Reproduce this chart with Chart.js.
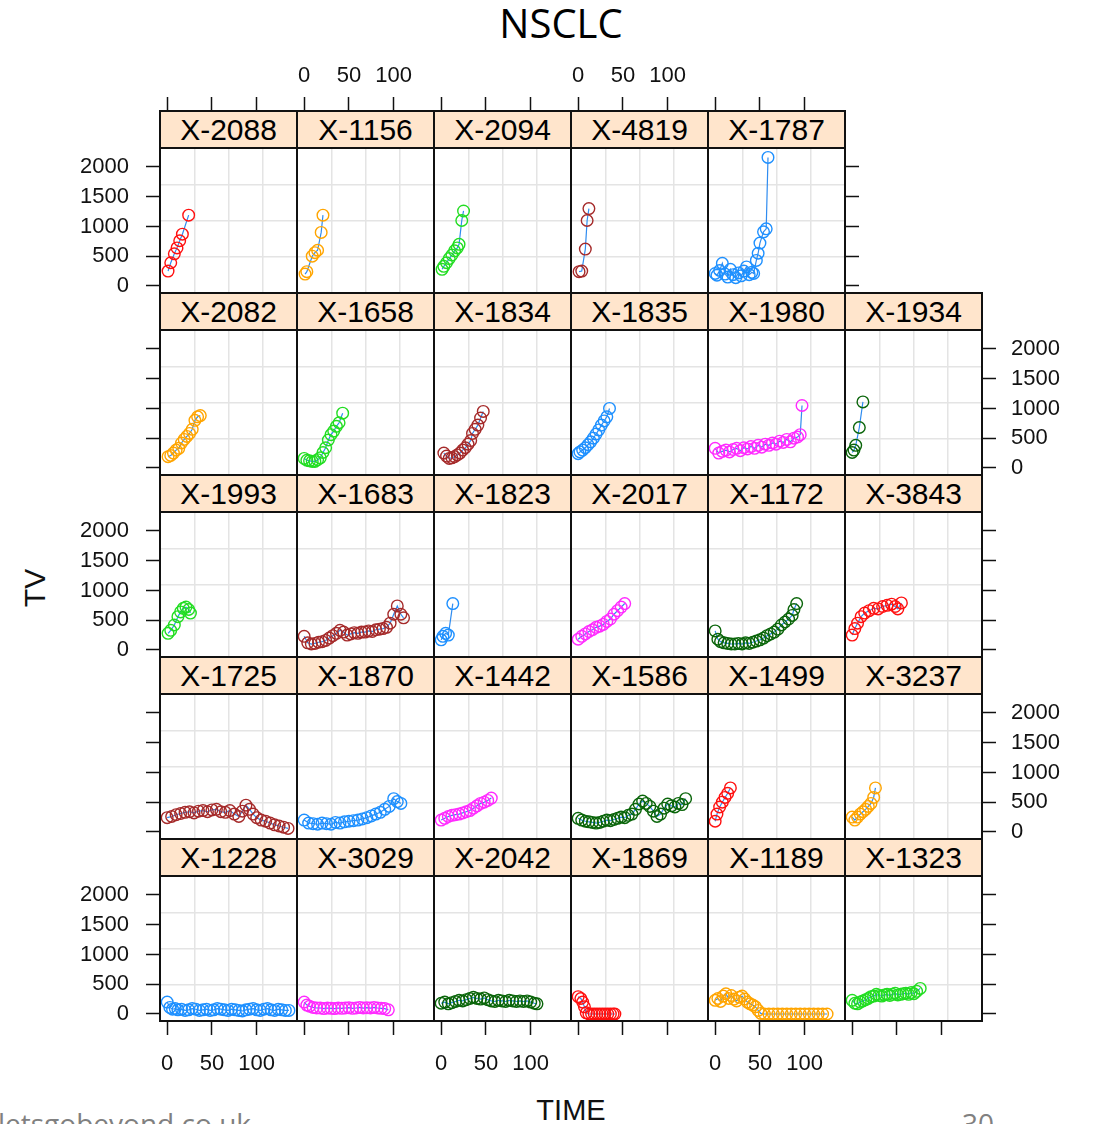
<!DOCTYPE html>
<html>
<head>
<meta charset="utf-8">
<script src="https://cdn.jsdelivr.net/npm/chart.js@4.4.0/dist/chart.umd.min.js"></script>
<style>
  html, body { margin: 0; padding: 0; background: #fff; }
  body { width: 1094px; height: 1124px; position: relative; overflow: hidden;
         font-family: "Liberation Sans", Arial, sans-serif; }
  canvas { position: absolute; }
  .strip { position: absolute; background: #ffe5cc; text-align: center; color: #000;
           font-size: 30px; line-height: 37px; }
  .frame { position: absolute; box-sizing: border-box; border: 2px solid #111; }
  .txt { position: absolute; white-space: nowrap; }
</style>
</head>
<body>
<div class="txt" style="left:0;width:1122px;top:3px;text-align:center;font-family:'Open Sans';font-size:40px;line-height:40px;color:#000">NSCLC</div>
<div class="txt" style="left:35px;top:588px;font-size:30px;transform:translate(-50%,-50%) rotate(-90deg);color:#111">TV</div>
<div class="txt" style="left:0;width:1142px;top:1094px;text-align:center;font-size:29px;line-height:32px;color:#111">TIME</div>
<div class="txt" style="left:-2px;top:1105px;font-family:'Open Sans';font-size:28px;line-height:36px;color:#808080">letsgobeyond.co.uk</div>
<div class="txt" style="left:962px;top:1105px;font-family:'Open Sans';font-size:28px;line-height:36px;color:#808080">30</div>
<script>
// subjects, in page order (top row first)
const subjects = ['X-2088','X-1156','X-2094','X-4819','X-1787',
  'X-2082','X-1658','X-1834','X-1835','X-1980','X-1934',
  'X-1993','X-1683','X-1823','X-2017','X-1172','X-3843',
  'X-1725','X-1870','X-1442','X-1586','X-1499','X-3237',
  'X-1228','X-3029','X-2042','X-1869','X-1189','X-1323'];

// [TIME, TV] per subject
const s2088 = [[1,250],[4,390],[8,540],[11,640],[14,760],[17,870],[24,1190]];
const s1156 = [[1,200],[3,240],[9,500],[12,560],[15,600],[19,900],[21,1190]];
const s2094 = [[1,280],[3,330],[6,390],[9,460],[12,520],[15,590],[18,640],[20,700],[23,1100],[25,1260]];
const s4819 = [[1,240],[4,250],[8,620],[10,1100],[12,1300]];
const s1787 = [[0,210],[2,180],[5,260],[8,380],[11,200],[14,150],[17,280],[20,190],[23,140],[26,220],[29,170],[32,250],[35,320],[38,190],[41,230],[43,210],[46,430],[48,550],[50,720],[54,910],[57,960],[59,2160]];

const s2082 = [[1,190],[4,210],[7,250],[10,300],[13,330],[16,420],[19,480],[22,530],[25,580],[28,650],[31,800],[34,860],[37,880]];
const s1658 = [[0,160],[3,130],[6,120],[9,110],[12,110],[15,140],[18,170],[21,260],[24,340],[27,470],[30,560],[33,620],[36,700],[39,760],[43,920]];
const s1834 = [[3,250],[6,200],[9,160],[12,170],[15,190],[18,220],[21,250],[24,300],[27,340],[30,400],[33,460],[35,580],[38,650],[41,720],[44,840],[47,950]];
const s1835 = [[0,240],[2,270],[5,300],[8,340],[11,390],[14,440],[17,500],[20,570],[23,640],[26,720],[29,790],[32,860],[35,1000]];
const s1980 = [[0,330],[4,250],[8,280],[12,300],[16,270],[20,310],[24,330],[28,290],[32,340],[36,320],[40,360],[44,330],[48,380],[52,350],[56,400],[60,380],[64,420],[68,400],[72,450],[76,430],[80,480],[84,440],[88,500],[92,520],[95,560],[97,1050]];
const s1934 = [[0,260],[2,300],[4,380],[8,680],[12,1110]];

const s1993 = [[1,280],[4,330],[8,420],[12,560],[15,640],[18,700],[21,720],[24,680],[26,620]];
const s1683 = [[0,230],[4,120],[8,100],[12,110],[16,130],[20,140],[24,160],[28,200],[32,240],[36,280],[40,330],[44,300],[48,250],[52,270],[56,290],[60,280],[64,300],[68,300],[72,320],[76,310],[80,340],[84,350],[88,360],[92,380],[96,450],[100,600],[104,740],[108,600],[111,540]];
const s1823 = [[0,170],[2,230],[5,280],[8,250],[13,780]];
const s2017 = [[0,180],[4,230],[8,270],[12,310],[16,340],[20,380],[24,400],[28,430],[32,480],[36,520],[40,600],[44,660],[48,720],[52,780]];
const s1172 = [[0,320],[3,180],[6,140],[10,120],[14,110],[18,100],[22,100],[26,110],[30,100],[34,120],[38,110],[42,130],[46,150],[50,170],[54,200],[58,240],[62,270],[66,300],[70,350],[74,420],[78,470],[82,520],[86,580],[88,680],[91,780]];
const s3843 = [[0,250],[3,360],[6,450],[10,560],[14,620],[19,660],[24,700],[29,690],[34,730],[39,750],[44,770],[48,730],[51,690],[55,790]];

const s1725 = [[0,240],[5,260],[10,290],[15,310],[20,330],[25,340],[30,320],[35,350],[40,360],[45,340],[50,370],[55,380],[60,340],[65,330],[70,360],[75,300],[80,260],[84,350],[88,450],[92,380],[96,300],[100,240],[105,200],[110,180],[115,150],[120,120],[125,100],[130,80],[135,60]];
const s1870 = [[0,200],[5,150],[10,140],[15,130],[20,150],[25,140],[30,130],[35,160],[40,150],[45,170],[50,180],[55,190],[60,200],[65,220],[70,240],[75,270],[80,300],[85,330],[90,380],[95,430],[100,560],[104,510],[108,480]];
const s1442 = [[0,200],[4,230],[8,260],[12,280],[16,290],[20,300],[24,320],[28,340],[32,360],[36,400],[40,440],[44,480],[48,500],[52,530],[56,570]];
const s1586 = [[0,230],[4,200],[8,180],[12,170],[16,160],[20,150],[24,160],[28,180],[32,200],[36,190],[40,210],[44,230],[48,250],[52,240],[56,280],[60,300],[64,380],[68,470],[72,520],[76,480],[80,430],[84,350],[88,260],[92,300],[96,400],[100,470],[104,440],[108,420],[112,480],[116,460],[120,560]];
const s1499 = [[0,180],[2,300],[5,420],[8,500],[11,580],[14,650],[17,740]];
const s3237 = [[0,250],[3,200],[6,250],[9,300],[12,340],[15,380],[18,430],[21,480],[24,580],[26,740]];

const s1228 = [[0,200],[3,110],[6,80],[9,90],[12,70],[16,80],[20,60],[24,70],[28,90],[32,80],[36,60],[40,70],[44,80],[48,60],[52,70],[56,90],[60,80],[64,70],[68,60],[72,80],[76,70],[80,60],[84,50],[88,70],[92,80],[96,90],[100,70],[104,60],[108,80],[112,90],[116,70],[120,60],[124,80],[128,70],[132,60],[136,60]];
const s3029 = [[0,200],[3,150],[6,130],[10,110],[14,100],[18,100],[22,90],[26,100],[30,95],[34,90],[38,100],[42,95],[46,100],[50,105],[54,95],[58,100],[62,110],[66,100],[70,105],[74,100],[78,110],[82,100],[86,95],[90,90],[94,70]];
const s2042 = [[0,180],[4,200],[8,170],[12,190],[16,210],[20,230],[24,220],[28,240],[32,260],[36,280],[40,260],[44,250],[48,270],[52,240],[56,220],[60,210],[64,230],[68,220],[72,210],[76,230],[80,220],[84,210],[88,220],[92,210],[96,220],[100,200],[104,180],[107,170]];
const s1869 = [[0,290],[3,260],[5,200],[7,120],[9,20],[12,0],[15,0],[18,0],[21,0],[24,0],[27,0],[30,0],[33,0],[36,0],[39,0],[41,0]];
const s1189 = [[0,230],[3,260],[6,210],[9,300],[12,340],[15,260],[18,310],[21,250],[24,220],[27,280],[30,300],[33,250],[36,200],[39,170],[42,150],[45,120],[48,60],[51,10],[55,0],[60,0],[65,0],[70,0],[75,0],[80,0],[85,0],[90,0],[95,0],[100,0],[105,0],[110,0],[115,0],[120,0],[125,0]];
const s1323 = [[0,230],[3,180],[6,170],[9,200],[12,220],[15,240],[18,260],[21,290],[24,300],[27,330],[30,310],[33,300],[36,320],[39,330],[42,310],[45,330],[48,350],[51,320],[54,330],[57,340],[60,350],[63,330],[66,360],[69,340],[72,380],[76,430]];

const series = [s2088, s1156, s2094, s4819, s1787,
  s2082, s1658, s1834, s1835, s1980, s1934,
  s1993, s1683, s1823, s2017, s1172, s3843,
  s1725, s1870, s1442, s1586, s1499, s3237,
  s1228, s3029, s2042, s1869, s1189, s1323];

const xTicks = [0, 50, 100];
const yTicks = [0, 500, 1000, 1500, 2000];

// lattice colours, cycled from the bottom-left panel upwards
const palette = ['#1e90ff', '#ff2bff', '#0a650a', '#ff1010', '#ffa500', '#22dd22', '#a52a2a'];
const lineBlue = '#2f8cf0';
const gridCol = '#e4e4e4';

const X_MIN = -8, X_MAX = 145, Y_MIN = -118, Y_MAX = 2318;
const LEFT0 = 160, TOP0 = 111, W = 137, STRIP = 37, PANEL = 145, ROW = 182;
const PAD = 40;  // spare canvas room so tick labels never squeeze the plot area
const FONT = 'Liberation Sans';

function colX(c) { return LEFT0 + c * W; }
function rowY(r) { return TOP0 + r * ROW; }

function addDiv(cls, x, y, w, h, text) {
  var d = document.createElement('div');
  d.className = cls;
  d.style.left = x + 'px'; d.style.top = y + 'px';
  d.style.width = w + 'px'; d.style.height = h + 'px';
  if (text) d.textContent = text;
  document.body.appendChild(d);
  return d;
}

function makeCanvas(x, y, w, h) {
  var cv = document.createElement('canvas');
  cv.width = w; cv.height = h;
  cv.style.left = x + 'px'; cv.style.top = y + 'px';
  cv.style.width = w + 'px'; cv.style.height = h + 'px';
  document.body.appendChild(cv);
  return cv.getContext('2d');
}

var base = {
  responsive: false, animation: false, devicePixelRatio: 1, events: [],
  plugins: { legend: { display: false }, tooltip: { enabled: false } }
};

function panelChart(i, r, c) {
  var x = colX(c), y = rowY(r) + STRIP;
  var ctx = makeCanvas(x, y, W, PANEL);
  var bu = (4 - r) * 6 + c;
  new Chart(ctx, {
    type: 'scatter',
    data: {
      datasets: [{
        data: series[i].map(p => ({ x: p[0], y: p[1] })),
        showLine: true,
        borderColor: lineBlue,
        borderWidth: 1.2,
        pointRadius: 5.8,
        pointBorderWidth: 1.4,
        pointBorderColor: palette[bu % 7],
        pointBackgroundColor: 'rgba(0,0,0,0)'
      }]
    },
    options: Object.assign({}, base, {
      layout: { padding: 0, autoPadding: false },
      scales: {
        x: { type: 'linear', min: X_MIN, max: X_MAX, display: false },
        y: { type: 'linear', min: Y_MIN, max: Y_MAX, display: false },
        gx: { type: 'linear', axis: 'x', position: 'bottom', min: 0, max: 4,
              ticks: { display: false, stepSize: 1 },
              grid: { color: gridCol, lineWidth: 1.5, drawTicks: false }, border: { display: false } },
        gy: { type: 'linear', axis: 'y', position: 'left', min: 0, max: 4,
              ticks: { display: false, stepSize: 1 },
              grid: { color: gridCol, lineWidth: 1.5, drawTicks: false }, border: { display: false } }
      }
    })
  });
  addDiv('strip', x, rowY(r), W, STRIP, subjects[i]);
  addDiv('frame', x - 1, rowY(r) - 1, W + 2, STRIP + 2);
  addDiv('frame', x - 1, y - 1, W + 2, PANEL + 2);
}

function tickOpts(show, pad) {
  return {
    display: true, autoSkip: false, maxRotation: 0, padding: pad,
    font: { family: FONT, size: 22 }, color: '#111',
    callback: v => show ? String(v) : ''
  };
}
function tickGrid(len) {
  return { drawOnChartArea: false, drawTicks: true, tickLength: len, tickColor: '#111', tickWidth: 1.5 };
}

// outer x axis: side 'top' above row 0, 'bottom' under row 4
function xAxis(c, side, show) {
  var x = colX(c) - PAD, y = side === 'top' ? TOP0 - 60 : rowY(4) + STRIP + PANEL - 10;
  var ctx = makeCanvas(x, y, W + 2 * PAD, 70);
  new Chart(ctx, {
    type: 'scatter', data: { datasets: [] },
    options: Object.assign({}, base, {
      layout: { padding: { left: PAD, right: PAD, top: 0, bottom: 0 }, autoPadding: false },
      scales: {
        x: { type: 'linear', position: side, min: X_MIN, max: X_MAX,
             afterBuildTicks: s => { s.ticks = xTicks.map(v => ({ value: v })); },
             afterFit: s => { s.height = 60; },
             ticks: tickOpts(show, side === 'top' ? 8 : 16),
             grid: tickGrid(14), border: { display: false } },
        y: { type: 'linear', min: 0, max: 1, display: false }
      }
    })
  });
}

// outer y axis of a row
function yAxis(r, side, edge, show) {
  var top = rowY(r) + STRIP - PAD;
  var x = side === 'left' ? edge - 110 : edge - 10;
  var ctx = makeCanvas(x, top, 120, PANEL + 2 * PAD);
  new Chart(ctx, {
    type: 'scatter', data: { datasets: [] },
    options: Object.assign({}, base, {
      layout: { padding: { left: 0, right: 0, top: PAD, bottom: PAD }, autoPadding: false },
      scales: {
        x: { type: 'linear', min: 0, max: 1, display: false },
        y: { type: 'linear', position: side, min: Y_MIN, max: Y_MAX,
             afterBuildTicks: s => { s.ticks = yTicks.map(v => ({ value: v })); },
             afterFit: s => { s.width = 110; },
             ticks: tickOpts(show, side === 'left' ? 17 : 15),
             grid: tickGrid(14), border: { display: false } }
      }
    })
  });
}

for (let i = 0; i < subjects.length; i++) {
  let r, c;
  if (i < 5) { r = 0; c = i; } else { r = 1 + Math.floor((i - 5) / 6); c = (i - 5) % 6; }
  panelChart(i, r, c);
}
for (let c = 0; c < 5; c++) xAxis(c, 'top', c % 2 === 1);
for (let c = 0; c < 6; c++) xAxis(c, 'bottom', c % 2 === 0);
for (let r = 0; r < 5; r++) {
  yAxis(r, 'left', LEFT0, r % 2 === 0);
  yAxis(r, 'right', r === 0 ? colX(5) : colX(6), r % 2 === 1);
}
</script>
</body>
</html>
